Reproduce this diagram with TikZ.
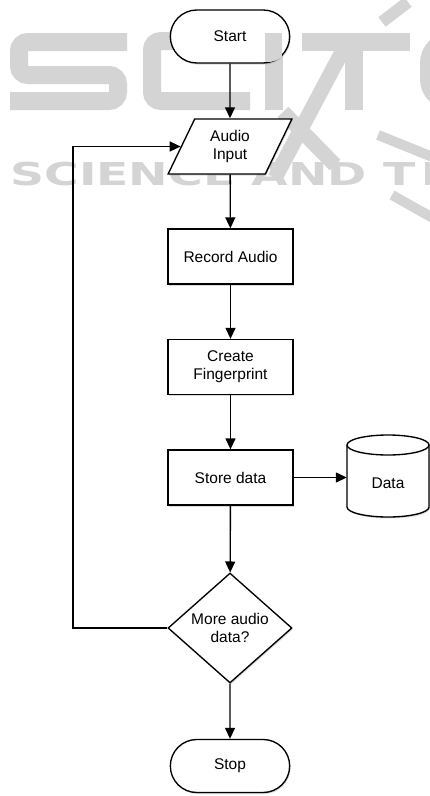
\documentclass[tikz,border=0pt]{standalone}
\usepackage{fontspec}
\setmainfont{Liberation Sans}
\newfontfamily\markfont{DejaVu Sans}
\usetikzlibrary{shapes.geometric,shapes.misc,arrows.meta,shadows}

\begin{document}
\begin{tikzpicture}[x=1pt,y=-1pt,
  flow/.style={draw=black, line width=1.35pt, fill=white, text=black,
    font=\fontsize{15.5}{18}\selectfont, align=center,
    drop shadow={opacity=0.28, shadow xshift=1pt, shadow yshift=-1.5pt}},
  terminal/.style={flow, rounded rectangle, minimum width=126pt, minimum height=53pt},
  process/.style={flow, rectangle, minimum width=125pt, minimum height=55pt},
  io/.style={flow, trapezium, trapezium left angle=66, trapezium right angle=114,
    trapezium stretches=true, minimum width=124pt, minimum height=55pt},
  decision/.style={flow, diamond, aspect=1.13, inner sep=0pt,
    minimum width=124pt, minimum height=110pt},
  link/.style={draw=black, line width=1.35pt, -{Triangle[length=11pt,width=10pt]}},
  wmstroke/.style={draw=black!17, line width=18pt, rounded corners=9pt}
]
\useasboundingbox (0,0) rectangle (430,796);
\fill[white] (0,0) rectangle (430,796);

% faint publisher watermark behind the chart
\path[wmstroke] (127,42) -- (19,42) -- (19,75) -- (118,75) -- (118,101) -- (10,101);
\path[wmstroke] (250,41) -- (152,41) -- (152,101) -- (250,101);
\path[wmstroke, rounded corners=0pt] (273.5,33) -- (273.5,110);
\path[wmstroke, rounded corners=0pt] (302,41.5) -- (410,41.5);
\path[wmstroke, rounded corners=0pt] (354,41.5) -- (354,110);
\path[wmstroke, line width=15pt] (343,50) -- (275,178);
\path[wmstroke, line width=15pt] (283,112) -- (335,165);
\path[wmstroke, line width=12pt] (382,22) -- (408,2);
\path[wmstroke, rounded corners=22pt] (470,41) -- (429,41) -- (429,101) -- (470,101);
\path[wmstroke, line width=10pt] (378,135) -- (440,160);
\path[wmstroke, line width=10pt] (392,195) -- (440,222);
\path[wmstroke, line width=7pt, rounded corners=0pt] (428,162) -- (428,185);
\node[anchor=base west, inner sep=0pt, text=black!17, xscale=1.5] (wmtext) at (10,185)
  {\fontsize{31.5}{31.5}\markfont\bfseries SCIENCE AND T};

% flow chart
\node[terminal] (start) at (230,36.5) {Start};
% the watermark bar also shows through the start terminal
\fill[black!17] (265,33) rectangle (266.5,62.2);
\begin{scope}
  \clip (266.5,36.5) circle[radius=25.7];
  \fill[black!17] (266.5,33) rectangle (282,62.2);
\end{scope}
\node[io] (input) at (230,146.5) {Audio\\Input};
\node[process] (record) at (230.5,256.5) {Record Audio};
\node[process] (finger) at (230.5,367) {Create\\Fingerprint};
\node[process] (store) at (230.5,477.5) {Store data};
\node[decision] (more) at (230,628) {More audio\\data?};
\node[terminal] (stop) at (230,766) {Stop};

% database cylinder
\path[fill=white, draw=black, line width=1.35pt,
      drop shadow={opacity=0.28, shadow xshift=1pt, shadow yshift=-1.5pt}]
  (347,445) -- (347,507) arc[start angle=180, end angle=0, x radius=41, y radius=10]
  -- (429,445) arc[start angle=0, end angle=-180, x radius=41, y radius=10] -- cycle;
\draw[line width=1.35pt] (347,445) arc[start angle=180, end angle=0, x radius=41, y radius=10];
\node[inner sep=0pt, minimum width=82pt, font=\fontsize{15.5}{18}\selectfont] (data) at (388,483) {Data};

% connectors
\draw[link] (start) -- (input);
\draw[link] (input) -- (record);
\draw[link] (record) -- (finger);
\draw[link] (finger) -- (store);
\draw[link] (store) -- (more);
\draw[link] (more) -- (stop);
\draw[link] (store.east) -- (store.east -| data.west);
\coordinate (loop) at (73,628);
\draw[link] (more.west) -- (loop) |- (input.west);
\end{tikzpicture}
\end{document}
